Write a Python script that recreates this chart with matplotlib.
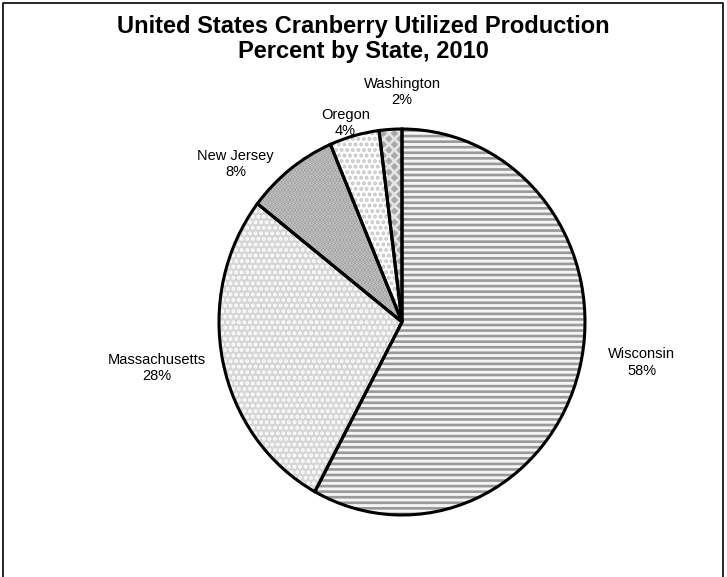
import matplotlib.pyplot as plt
from matplotlib.lines import Line2D

plt.rcParams['font.family'] = ['Liberation Sans', 'DejaVu Sans']
plt.rcParams['hatch.linewidth'] = 1.9

states = ['Wisconsin', 'Massachusetts', 'New Jersey', 'Oregon', 'Washington']
share = [57.9, 27.6, 8.1, 4.4, 2.0]
label_pct = ['58%', '28%', '8%', '4%', '2%']

# fill and hatch per slice (face, hatch, hatch colour)
faces = ['#f4f4f4', '#d6d6d6', '#8e8e8e', 'white', '#a8a8a8']
hatches = ['---', '...', '.....', '...', 'xxx']
hatch_cols = ['#999999', 'white', '#d0d0d0', '#c4c4c4', '#e4e4e4']

fig = plt.figure(figsize=(7.27, 5.77), dpi=100)
W, H = 727, 577
cx, cy, rx, ry = 402, 322, 183, 193
ax = fig.add_axes([(cx - rx) / W, (H - cy - ry) / H, 2 * rx / W, 2 * ry / H])

# hatched fills first
wedges, _ = ax.pie(share, startangle=90, counterclock=False,
                   colors=faces, wedgeprops=dict(linewidth=0))
for w, h, hc in zip(wedges, hatches, hatch_cols):
    w.set_hatch(h)
    w.set_edgecolor(hc)

# black outlines on top
ax.pie(share, startangle=90, counterclock=False,
       wedgeprops=dict(fill=False, edgecolor='black', linewidth=2.2))

ax.set_aspect('auto')
ax.set_xlim(-1, 1)
ax.set_ylim(-1, 1)

# label spots (axes data units)
label_xy = [(1.31, -0.21), (-1.34, -0.24), (-0.91, 0.82), (-0.31, 1.03), (0.0, 1.19)]
for name, pct, (lx, ly) in zip(states, label_pct, label_xy):
    ax.text(lx, ly, name + '\n' + pct, ha='center', va='center',
            fontsize=10.5, linespacing=1.2, clip_on=False)

fig.text(363 / W, 1 - 39 / H, 'United States Cranberry Utilized Production\nPercent by State, 2010',
         ha='center', va='center', fontsize=17, fontweight='bold', linespacing=1.15)

# chart border
fig.add_artist(Line2D([2.5 / W, 2.5 / W, 722.5 / W, 722.5 / W],
                      [0, 1 - 2.5 / H, 1 - 2.5 / H, 0],
                      transform=fig.transFigure, color='black', linewidth=1.2))

fig.savefig('out.png', dpi=100)
